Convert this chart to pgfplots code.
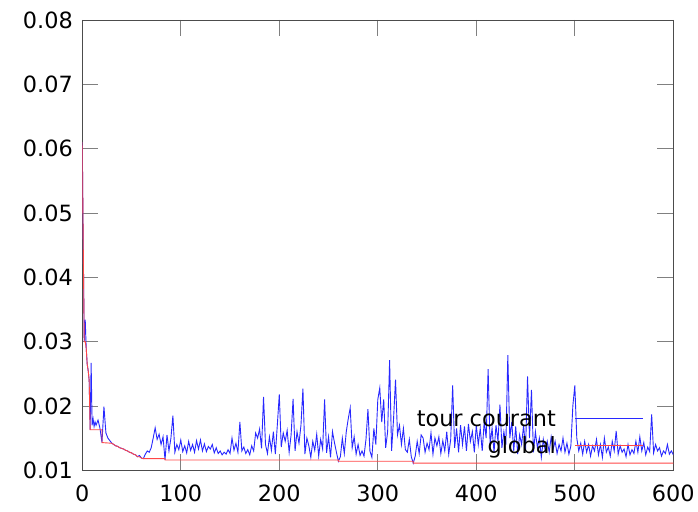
\documentclass[border=0pt]{standalone}
\usepackage{pgfplots}
\pgfplotsset{compat=1.18}
\usepackage{pgfplotstable}
\usepackage{fontspec}
\setmainfont{DejaVu Sans}
\pgfplotstableread{
x y
0 0.0610
1 0.0450
2 0.0300
3 0.0334
4 0.0290
5 0.0265
6 0.0255
7 0.0240
8 0.0163
9 0.0267
10 0.0170
11 0.0180
12 0.0168
13 0.0175
14 0.0170
16 0.0178
18 0.0165
20 0.0143
22 0.0199
24 0.0158
26 0.0150
28 0.0146
30 0.0142
32 0.0140
34 0.0138
36 0.0137
38 0.0135
40 0.0134
42 0.0133
44 0.0131
46 0.0130
48 0.0128
50 0.0127
52 0.0125
54 0.0124
56 0.0121
58 0.0123
60 0.0119
62 0.0118
64 0.0125
66 0.0130
68 0.0128
70 0.0135
72 0.0150
74 0.0166
76 0.0148
78 0.0156
80 0.0140
82 0.0152
84 0.0116
86 0.0155
88 0.0130
90 0.0150
92 0.0185
94 0.0128
96 0.0140
98 0.0132
100 0.0147
102 0.0129
104 0.0138
106 0.0127
108 0.0145
110 0.0131
112 0.0140
114 0.0128
116 0.0146
118 0.0133
120 0.0147
122 0.0130
124 0.0141
126 0.0129
128 0.0137
130 0.0133
132 0.0140
134 0.0127
136 0.0135
138 0.0126
140 0.0130
142 0.0124
144 0.0128
146 0.0125
148 0.0132
150 0.0126
152 0.0150
154 0.0131
156 0.0142
158 0.0128
160 0.0175
162 0.0130
164 0.0136
166 0.0126
168 0.0132
170 0.0124
172 0.0138
174 0.0130
176 0.0158
178 0.0150
180 0.0164
182 0.0134
184 0.0214
186 0.0140
188 0.0126
190 0.0152
192 0.0131
194 0.0160
196 0.0125
198 0.0170
200 0.0218
202 0.0136
204 0.0158
206 0.0145
208 0.0162
210 0.0128
212 0.0155
214 0.0211
216 0.0130
218 0.0160
220 0.0142
222 0.0170
224 0.0227
226 0.0125
228 0.0150
230 0.0138
232 0.0120
234 0.0145
236 0.0131
238 0.0156
240 0.0122
242 0.0148
244 0.0133
246 0.0210
248 0.0127
250 0.0152
252 0.0120
254 0.0160
256 0.0143
258 0.0128
260 0.0114
262 0.0121
264 0.0150
266 0.0126
268 0.0160
270 0.0180
272 0.0197
274 0.0135
276 0.0152
278 0.0125
280 0.0140
282 0.0123
284 0.0130
286 0.0122
288 0.0148
290 0.0195
292 0.0130
294 0.0120
296 0.0165
298 0.0140
300 0.0210
302 0.0228
304 0.0175
306 0.0210
308 0.0135
310 0.0160
312 0.0271
314 0.0130
316 0.0180
318 0.0241
320 0.0155
322 0.0170
324 0.0140
326 0.0165
328 0.0132
330 0.0128
332 0.0148
334 0.0121
336 0.0111
338 0.0122
340 0.0145
342 0.0126
344 0.0155
346 0.0150
348 0.0128
350 0.0142
352 0.0132
354 0.0158
356 0.0125
358 0.0150
360 0.0138
362 0.0152
364 0.0126
366 0.0146
368 0.0130
370 0.0160
372 0.0125
374 0.0148
376 0.0232
378 0.0135
380 0.0165
382 0.0128
384 0.0170
386 0.0140
388 0.0168
390 0.0130
392 0.0172
394 0.0145
396 0.0160
398 0.0128
400 0.0170
402 0.0140
404 0.0165
406 0.0130
408 0.0175
410 0.0150
412 0.0257
414 0.0140
416 0.0165
418 0.0128
420 0.0170
422 0.0145
424 0.0202
426 0.0135
428 0.0160
430 0.0140
432 0.0279
434 0.0150
436 0.0175
438 0.0130
440 0.0168
442 0.0125
444 0.0155
446 0.0140
448 0.0170
450 0.0132
452 0.0246
454 0.0150
456 0.0225
458 0.0128
460 0.0160
462 0.0135
464 0.0150
466 0.0120
468 0.0148
470 0.0130
472 0.0145
474 0.0128
476 0.0152
478 0.0133
480 0.0145
482 0.0126
484 0.0140
486 0.0130
488 0.0150
490 0.0128
492 0.0142
494 0.0125
496 0.0138
498 0.0200
500 0.0232
502 0.0150
504 0.0130
506 0.0142
508 0.0125
510 0.0145
512 0.0128
514 0.0140
516 0.0122
518 0.0138
520 0.0130
522 0.0148
524 0.0124
526 0.0140
528 0.0120
530 0.0150
532 0.0128
534 0.0136
536 0.0122
538 0.0145
540 0.0130
542 0.0161
544 0.0125
546 0.0138
548 0.0128
550 0.0133
552 0.0121
554 0.0140
556 0.0124
558 0.0132
560 0.0126
562 0.0145
564 0.0128
566 0.0152
568 0.0130
570 0.0143
572 0.0124
574 0.0136
576 0.0129
578 0.0187
580 0.0127
582 0.0140
584 0.0130
586 0.0135
588 0.0122
590 0.0130
592 0.0126
594 0.0140
596 0.0125
598 0.0130
600 0.0124
}\tourdata
\definecolor{tourblue}{RGB}{40,40,255}
\definecolor{globred}{RGB}{255,70,70}
\begin{document}
\begin{tikzpicture}
\begin{axis}[
  scale only axis,
  width=592bp, height=451bp,
  xmin=0, xmax=600, ymin=0.01, ymax=0.08,
  xtick={0,100,...,600},
  ytick={0.01,0.02,...,0.08},
  scaled y ticks=false,
  yticklabel style={/pgf/number format/fixed,/pgf/number format/precision=2,/pgf/number format/fixed zerofill, xshift=-6bp},
  xticklabel style={yshift=-11bp},
  /pgf/number format/assume math mode=true,
  tick label style={font=\fontsize{22.5}{27}\selectfont},
  tick align=inside,
  major tick length=16bp,
  tick style={gray, line width=0.8bp},
  axis line style={gray!60!black, line width=0.8bp},
  legend plot pos=right,
  legend cell align=right,
  legend image code/.code={\draw[mark repeat=2,mark phase=2,#1] plot coordinates {(0bp,0bp)(34bp,0bp)(68bp,0bp)};},
  legend style={draw=none, fill=none, inner sep=0pt, at={(axis cs:570,0.01585)}, anchor=east,
    font=\fontsize{22.5}{27}\selectfont, row sep=5bp, column sep=17bp},
]
\addplot[tourblue, line width=0.9bp, legend image post style={tourblue}] table[x=x, y=y] {\tourdata};
\addlegendentry{tour courant}
\addplot[globred, line width=0.9bp, legend image post style={globred}] coordinates {(0,0.061)(1,0.045)(2,0.030)(3,0.030)(4,0.029)(5,0.0265)(6,0.0255)(7,0.024)(8,0.0163)(20,0.0163)(20,0.0143)(30,0.0142)(32,0.0140)(34,0.0138)(36,0.0137)(38,0.0135)(40,0.0134)(42,0.0133)(44,0.0131)(46,0.0130)(48,0.0128)(50,0.0127)(52,0.0125)(54,0.0124)(56,0.0121)(58,0.0121)(60,0.0119)(62,0.0118)(84,0.0118)(84,0.0116)(260,0.0116)(260,0.0114)(336,0.0114)(336,0.0111)(600,0.0111)};
\addlegendentry{global}
\end{axis}
\path (current axis.south west) ++(-82.4bp,-41bp) rectangle ++(698bp,512bp);
\end{tikzpicture}
\end{document}
